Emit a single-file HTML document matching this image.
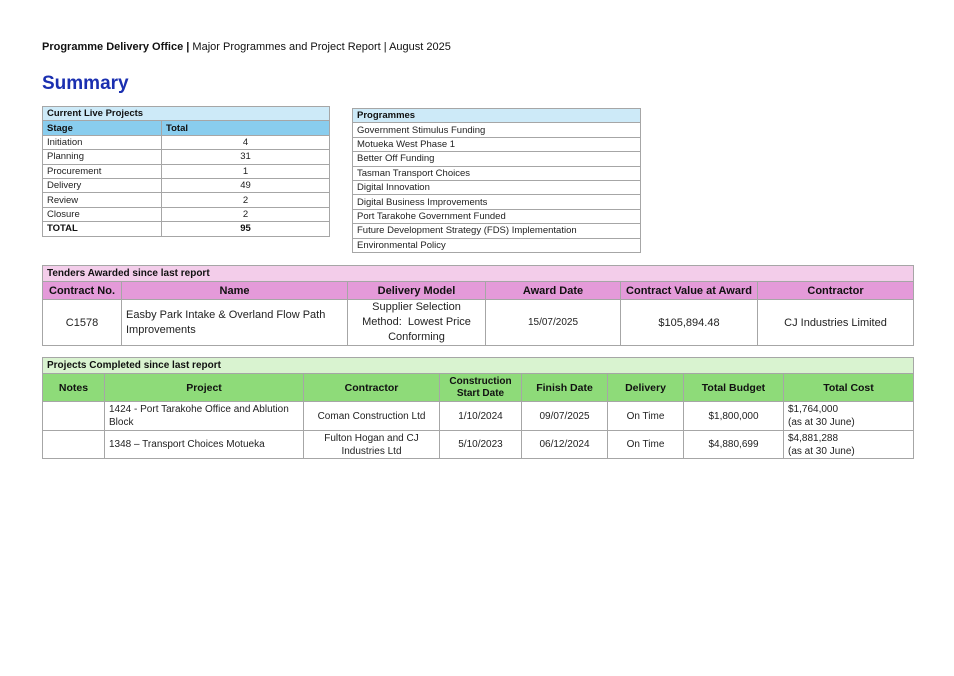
<!DOCTYPE html>
<html><head><meta charset="utf-8"><style>
body{margin:0;width:954px;height:676px;background:#fff;font-family:"Liberation Sans",sans-serif;color:#222;position:relative;overflow:hidden}
.abs{position:absolute}
table{border-collapse:collapse;table-layout:fixed;position:absolute}
td{border:1px solid #a6a6a6;padding:0 4px;overflow:hidden;white-space:nowrap}
.t1 td{font-size:9.5px;height:13.4px;line-height:13px}
.b{font-weight:bold;color:#111}
.c{text-align:center}
</style></head><body>
<div class="abs" style="left:42px;top:41px;font-size:11px;color:#111"><b>Programme Delivery Office |</b> Major Programmes and Project Report | August 2025</div>
<div class="abs" style="left:42px;top:73px;font-size:19px;font-weight:bold;color:#1a2fb0">Summary</div>

<table class="t1" style="left:42px;top:106px;width:288px">
<col style="width:119px"><col>
<tr><td colspan="2" class="b" style="background:#cdeaf8">Current Live Projects</td></tr>
<tr><td class="b" style="background:#89cdee">Stage</td><td class="b" style="background:#89cdee">Total</td></tr>
<tr><td>Initiation</td><td class="c">4</td></tr>
<tr><td>Planning</td><td class="c">31</td></tr>
<tr><td>Procurement</td><td class="c">1</td></tr>
<tr><td>Delivery</td><td class="c">49</td></tr>
<tr><td>Review</td><td class="c">2</td></tr>
<tr><td>Closure</td><td class="c">2</td></tr>
<tr><td class="b">TOTAL</td><td class="c b">95</td></tr>
</table>

<table class="t1" style="left:352px;top:108px;width:289px">
<tr><td class="b" style="background:#cdeaf8">Programmes</td></tr>
<tr><td>Government Stimulus Funding</td></tr>
<tr><td>Motueka West Phase 1</td></tr>
<tr><td>Better Off Funding</td></tr>
<tr><td>Tasman Transport Choices</td></tr>
<tr><td>Digital Innovation</td></tr>
<tr><td>Digital Business Improvements</td></tr>
<tr><td>Port Tarakohe Government Funded</td></tr>
<tr><td>Future Development Strategy (FDS) Implementation</td></tr>
<tr><td>Environmental Policy</td></tr>
</table>

<table style="left:42px;top:265px;width:872px;font-size:11px">
<col style="width:79px"><col style="width:226px"><col style="width:138px"><col style="width:135px"><col style="width:137px"><col>
<tr><td colspan="6" class="b" style="background:#f3cdea;height:15px;font-size:10px">Tenders Awarded since last report</td></tr>
<tr style="background:#e49ad9"><td class="b c" style="height:17px">Contract No.</td><td class="b c">Name</td><td class="b c">Delivery Model</td><td class="b c">Award Date</td><td class="b c">Contract Value at Award</td><td class="b c">Contractor</td></tr>
<tr><td class="c" style="height:45px">C1578</td><td style="white-space:normal;line-height:15px">Easby Park Intake &amp; Overland Flow Path Improvements</td><td class="c" style="white-space:normal;line-height:15px">Supplier Selection Method:&nbsp; Lowest Price Conforming</td><td class="c" style="font-size:10px">15/07/2025</td><td class="c">$105,894.48</td><td class="c">CJ Industries Limited</td></tr>
</table>

<table style="left:42px;top:357px;width:872px;font-size:10px">
<col style="width:62px"><col style="width:199px"><col style="width:136px"><col style="width:82px"><col style="width:86px"><col style="width:76px"><col style="width:100px"><col>
<tr><td colspan="8" class="b" style="background:#d9f3d0;height:15px">Projects Completed since last report</td></tr>
<tr style="background:#8edb79;font-size:10.5px"><td class="b c" style="height:27px">Notes</td><td class="b c">Project</td><td class="b c">Contractor</td><td class="b c" style="white-space:normal;line-height:12px;font-size:10px">Construction Start Date</td><td class="b c">Finish Date</td><td class="b c">Delivery</td><td class="b c">Total Budget</td><td class="b c">Total Cost</td></tr>
<tr><td style="height:28px"></td><td style="white-space:normal;line-height:13px">1424 - Port Tarakohe Office and Ablution Block</td><td class="c">Coman Construction Ltd</td><td class="c">1/10/2024</td><td class="c">09/07/2025</td><td class="c">On Time</td><td class="c">$1,800,000</td><td style="white-space:normal;line-height:13px">$1,764,000<br>(as at 30 June)</td></tr>
<tr><td style="height:27px"></td><td>1348 – Transport Choices Motueka</td><td class="c" style="white-space:normal;line-height:13px">Fulton Hogan and CJ Industries Ltd</td><td class="c">5/10/2023</td><td class="c">06/12/2024</td><td class="c">On Time</td><td class="c">$4,880,699</td><td style="white-space:normal;line-height:13px">$4,881,288<br>(as at 30 June)</td></tr>
</table>
</body></html>
